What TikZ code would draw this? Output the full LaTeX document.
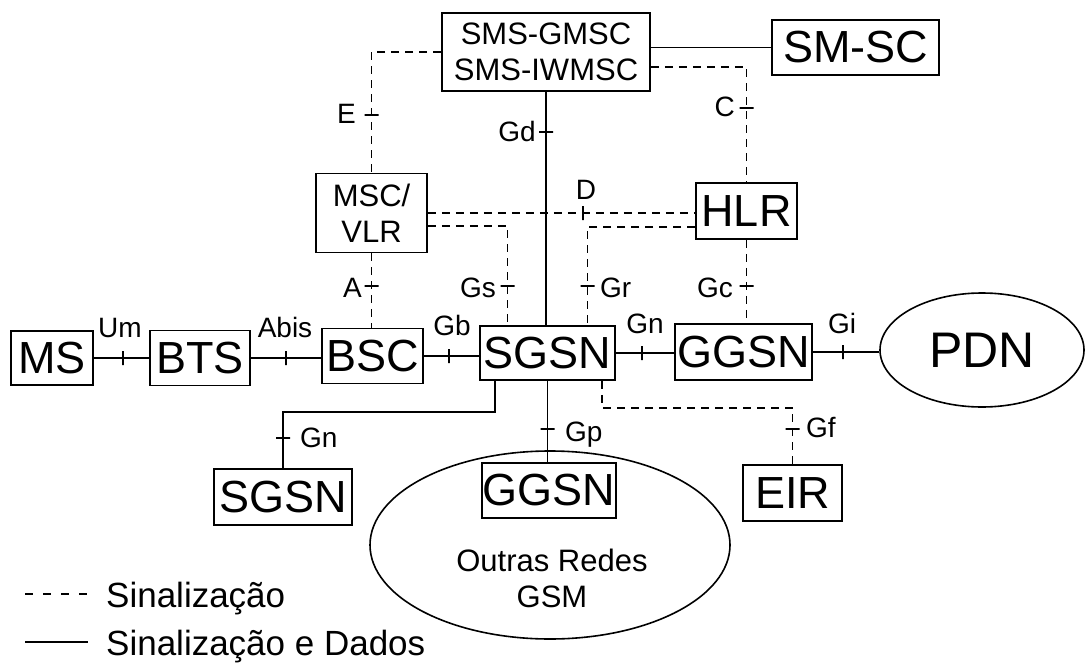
\documentclass[tikz,border=0pt]{standalone}
\usepackage{fontspec}
\setmainfont{Liberation Sans}
\usetikzlibrary{shapes.geometric}
\tikzset{
  box/.style={draw, line width=1.8pt, inner sep=0pt, font=\fontsize{45}{54}\selectfont},
  smallbox/.style={draw, line width=1.8pt, inner sep=0pt, align=center, font=\fontsize{31}{36}\selectfont},
  oval/.style={ellipse, draw, line width=1.6pt, inner sep=0pt},
  sig/.style={line width=1.5pt, dash pattern=on 8pt off 6pt},
  dat/.style={line width=1.5pt},
  lbl/.style={inner sep=0pt, font=\fontsize{28}{32}\selectfont},
  vtk/.style={draw, line width=1.4pt, shape=rectangle, inner sep=0pt, minimum width=0pt, minimum height=14pt},
  htk/.style={draw, line width=1.4pt, shape=rectangle, inner sep=0pt, minimum width=14pt, minimum height=0pt},
  legtxt/.style={anchor=base west, inner sep=0pt, font=\fontsize{35}{40}\selectfont}
}
\begin{document}
\begin{tikzpicture}[x=1pt,y=-1pt]
\useasboundingbox (0,0) rectangle (1086,663);
\fill[white] (0,0) rectangle (1086,663);

% nodes
\node[smallbox, minimum width=208pt, minimum height=78pt] (sms) at (546,52) {SMS-GMSC\\SMS-IWMSC};
\node[box, minimum width=167pt, minimum height=55pt] (smsc) at (855.5,47.5) {SM-SC};
\node[smallbox, minimum width=111pt, minimum height=79pt] (msc) at (371.5,213) {MSC/\\VLR};
\node[box, minimum width=101pt, minimum height=56pt] (hlr) at (746.5,211) {HLR};
\node[box, minimum width=82pt, minimum height=54pt] (ms) at (52,358) {MS};
\node[box, minimum width=100pt, minimum height=55pt] (bts) at (200,358) {BTS};
\node[box, minimum width=101pt, minimum height=55pt] (bsc) at (372.5,356) {BSC};
\node[box, minimum width=135pt, minimum height=54pt] (sgsn) at (547.5,353) {SGSN};
\node[box, minimum width=137pt, minimum height=56pt] (ggsn) at (743.5,352) {GGSN};
\node[oval, minimum width=204pt, minimum height=114pt, font=\fontsize{50}{60}\selectfont] (pdn) at (982,350) {PDN};
\node[oval, minimum width=360pt, minimum height=188pt] (net) at (550,545) {};
\node[inner sep=0pt, align=center, font=\fontsize{31}{36}\selectfont] (outras) at (552,578) {Outras Redes\\GSM};
\node[box, minimum width=138pt, minimum height=56pt] (sgsnb) at (283,497) {SGSN};
\node[box, minimum width=134pt, minimum height=55pt] (ggsnb) at (549,490.5) {GGSN};
\node[box, minimum width=99pt, minimum height=56pt] (eir) at (792.5,493) {EIR};

% connectors: signalling (dashed)
\draw[sig] (sms.west) -| (msc.north);
\draw[sig] ([yshift=-15pt]sms.east) -| (hlr.north);
\draw[sig] (msc.east) -- (msc.east -| hlr.west);
\draw[sig] ([yshift=-13pt]msc.east) -| ([xshift=-40pt]sgsn.north);
\draw[sig] ([yshift=-16pt]hlr.west) -| ([xshift=40pt]sgsn.north);
\draw[sig] (hlr.south) -- (hlr.south |- ggsn.north);
\draw[sig] (msc.south) -- (msc.south |- bsc.north);
\draw[sig] ([xshift=54.5pt]sgsn.south) -- ++(0,27) -| (eir.north);

% connectors: signalling and data (solid)
\draw[dat] (sms.east |- smsc.west) -- (smsc.west);
\draw[dat] (sms.south) -- (sms.south |- sgsn.north);
\draw[dat] (ms.east) -- (ms.east -| bts.west);
\draw[dat] (bts.east) -- (bts.east -| bsc.west);
\draw[dat] (bsc.east) -- (bsc.east -| sgsn.west);
\draw[dat] (sgsn.east) -- (sgsn.east -| ggsn.west);
\draw[dat] (ggsn.east) -- (ggsn.east -| pdn.west);
\draw[dat] ([xshift=-52.5pt]sgsn.south) -- ++(0,31) -| (sgsnb.north);
\draw[dat] (sgsn.south) -- (sgsn.south |- ggsnb.north);

% ticks
\node[vtk] (tUm) at (123,358) {};
\node[vtk] (tAbis) at (286,358) {};
\node[vtk] (tGb) at (449,356) {};
\node[vtk] (tGn) at (642,353) {};
\node[vtk] (tGi) at (843,352) {};
\node[vtk] (tD) at (583,213) {};
\node[htk] (tE) at (371.5,115) {};
\node[htk] (tGd) at (546,132) {};
\node[htk] (tC) at (746.5,108) {};
\node[htk] (tA) at (371.5,286) {};
\node[htk] (tGs) at (507.5,286) {};
\node[htk] (tGr) at (587.5,286) {};
\node[htk] (tGc) at (746.5,286) {};
\node[htk] (tGnb) at (283,438) {};
\node[htk] (tGp) at (547.5,429) {};
\node[htk] (tGf) at (792.5,429) {};

% interface labels
\node[lbl, anchor=base] (lUm) at (120,337) {Um};
\node[lbl, anchor=base] (lAbis) at (285,337) {Abis};
\node[lbl, anchor=base] (lGb) at (452,335) {Gb};
\node[lbl, anchor=base] (lGn) at (645,333) {Gn};
\node[lbl, anchor=base] (lGi) at (842,333) {Gi};
\node[lbl, anchor=base] (lD) at (586,200) {D};
\node[lbl, anchor=base east] (lE) at (356,124) {E};
\node[lbl, anchor=base east] (lGd) at (536,142) {Gd};
\node[lbl, anchor=base east] (lC) at (735,117) {C};
\node[lbl, anchor=base east] (lA) at (362,297) {A};
\node[lbl, anchor=base east] (lGs) at (496,297) {Gs};
\node[lbl, anchor=base west] (lGr) at (600,297) {Gr};
\node[lbl, anchor=base east] (lGc) at (733,297) {Gc};
\node[lbl, anchor=base west] (lGnb) at (300,447) {Gn};
\node[lbl, anchor=base west] (lGp) at (565,441) {Gp};
\node[lbl, anchor=base west] (lGf) at (806,437) {Gf};

% legend
\coordinate (l1a) at (25,594);
\coordinate (l1b) at (88,594);
\coordinate (l2a) at (25,642);
\coordinate (l2b) at (88,642);
\draw[line width=1.5pt, dash pattern=on 8pt off 10pt] (l1a) -- (l1b);
\draw[line width=2pt] (l2a) -- (l2b);
\node[legtxt] (leg1) at (106,607) {Sinalização};
\node[legtxt] (leg2) at (106,655) {Sinalização e Dados};
\end{tikzpicture}
\end{document}
